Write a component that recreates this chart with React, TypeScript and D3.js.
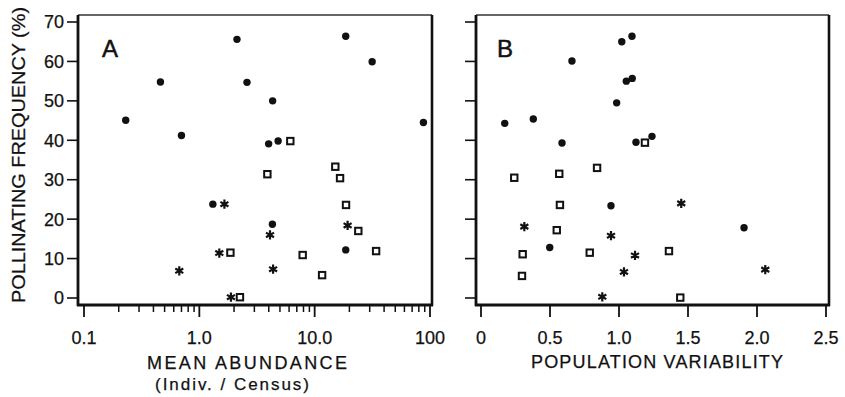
import * as d3 from 'd3';

type Pt = [number, number];

// Panel A: mean abundance (log) vs pollinating frequency
const circlesA: Pt[] = [
  [0.23, 45.1], [0.46, 54.8], [0.7, 41.2], [2.12, 65.6], [2.59, 54.7], [18.6, 66.4], [31.5, 59.9],
  [4.32, 50], [87.7, 44.5], [3.99, 39.1], [4.82, 39.8], [1.31, 23.8], [4.3, 18.7], [18.6, 12.2],
];
const squaresA: Pt[] = [
  [6.15, 39.8], [3.89, 31.4], [15.1, 33.3], [16.6, 30.4], [18.7, 23.6], [23.9, 17], [34.1, 11.9],
  [7.87, 10.9], [11.6, 5.8], [1.86, 11.5], [2.25, 0.2],
];
const starsA: Pt[] = [
  [1.65, 23.8], [1.49, 11.4], [0.67, 6.9], [1.88, 0.2], [4.1, 16], [4.36, 7.3], [19.3, 18.4],
];

// Panel B: population variability vs pollinating frequency
const circlesB: Pt[] = [
  [0.172, 44.3], [0.379, 45.4], [0.659, 60.1], [1.02, 65.0], [1.094, 66.4], [1.053, 55.0], [1.096, 55.7],
  [0.983, 49.5], [0.587, 39.3], [1.123, 39.5], [1.239, 41.0], [0.942, 23.4], [0.498, 12.8], [1.906, 17.8],
];
const squaresB: Pt[] = [
  [0.241, 30.5], [0.567, 31.5], [0.841, 33.0], [1.188, 39.4], [0.572, 23.6], [0.549, 17.2], [0.788, 11.5],
  [0.302, 11.1], [0.297, 5.6], [1.362, 11.9], [1.444, 0.1],
];
const starsB: Pt[] = [
  [0.314, 18.1], [0.942, 15.8], [1.116, 10.8], [1.036, 6.6], [0.879, 0.3], [1.451, 24.0], [2.06, 7.2],
];

const yTicks = [0, 10, 20, 30, 40, 50, 60, 70];
const xTicksA = [0.1, 1, 10, 100];
const xTickLabelsA = ['0.1', '1.0', '10.0', '100'];
const xTicksB = [0, 0.5, 1, 1.5, 2, 2.5];
const xTickLabelsB = ['0', '0.5', '1.0', '1.5', '2.0', '2.5'];

const FONT = '"Liberation Sans", Arial, sans-serif';
const textStyle = { fontFamily: FONT, fill: '#111', stroke: '#111', strokeWidth: 0.25 };

export default function App() {
  const top = 15;
  const bottom = 305;
  const y = d3.scaleLinear().domain([0, 70]).range([298, 22]);
  const xA = d3.scaleLog().domain([0.1, 100]).range([84, 430]);
  const xB = d3.scaleLinear().domain([0, 2.5]).range([481, 826]);
  const panelA = { left: 78, right: 432 };
  const panelB = { left: 476, right: 829 };

  const star = d3.symbol(d3.symbolAsterisk, 60)()!;

  const minorA: number[] = [];
  for (const dec of [0.1, 1, 10]) {
    for (let k = 2; k <= 9; k++) minorA.push(dec * k);
  }

  function marks(
    x: (v: number) => number,
    circles: Pt[],
    squares: Pt[],
    stars: Pt[],
    key: string
  ) {
    return (
      <g key={key}>
        {circles.map((d, i) => (
          <circle key={'c' + i} cx={x(d[0])} cy={y(d[1])} r={3.7} fill='#111' />
        ))}
        {squares.map((d, i) => (
          <rect
            key={'s' + i}
            x={x(d[0]) - 3.2}
            y={y(d[1]) - 3.2}
            width={6.4}
            height={6.4}
            fill='white'
            stroke='#111'
            strokeWidth={2}
          />
        ))}
        {stars.map((d, i) => (
          <path
            key={'a' + i}
            d={star}
            transform={`translate(${x(d[0])},${y(d[1])})`}
            fill='none'
            stroke='#111'
            strokeWidth={2.2}
          />
        ))}
      </g>
    );
  }

  function frame(p: { left: number; right: number }, showLabels: boolean) {
    return (
      <g>
        <line x1={p.left} x2={p.right} y1={top} y2={top} stroke='#333' strokeWidth={1.6} />
        <line x1={p.right} x2={p.right} y1={top} y2={bottom + 1} stroke='#111' strokeWidth={2.6} />
        <line x1={p.left} x2={p.left} y1={top} y2={bottom + 1} stroke='#111' strokeWidth={2.8} />
        <line x1={p.left - 1} x2={p.right + 1} y1={bottom} y2={bottom} stroke='#111' strokeWidth={2.8} />
        {yTicks.map((t) => (
          <g key={t}>
            <line x1={p.left - 11} x2={p.left} y1={y(t)} y2={y(t)} stroke='#111' strokeWidth={1.6} />
            {showLabels && (
              <text x={p.left - 14} y={y(t)} dy='0.36em' textAnchor='end' fontSize={18} style={textStyle}>
                {t}
              </text>
            )}
          </g>
        ))}
      </g>
    );
  }

  return (
    <svg width={845} height={397} style={{ position: 'absolute', left: 0, top: 0, background: 'white' }}>
      <rect width={845} height={397} fill='white' />
      {frame(panelA, true)}
      {frame(panelB, false)}

      {/* Panel A x axis (log) */}
      {xTicksA.map((t, i) => (
        <g key={'xa' + t}>
          <line x1={xA(t)} x2={xA(t)} y1={bottom} y2={bottom + 12} stroke='#111' strokeWidth={1.8} />
          <text x={xA(t)} y={344} textAnchor='middle' fontSize={18} style={textStyle}>
            {xTickLabelsA[i]}
          </text>
        </g>
      ))}
      {minorA.map((t) => (
        <line key={'ma' + t} x1={xA(t)} x2={xA(t)} y1={bottom} y2={bottom + 7} stroke='#111' strokeWidth={1.5} />
      ))}

      {/* Panel B x axis */}
      {xTicksB.map((t, i) => (
        <g key={'xb' + t}>
          <line x1={xB(t)} x2={xB(t)} y1={bottom} y2={bottom + 12} stroke='#111' strokeWidth={1.8} />
          <text x={xB(t)} y={344} textAnchor='middle' fontSize={18} style={textStyle}>
            {xTickLabelsB[i]}
          </text>
        </g>
      ))}

      {marks(xA, circlesA, squaresA, starsA, 'A')}
      {marks(xB, circlesB, squaresB, starsB, 'B')}

      <text x={102} y={57} fontSize={24} style={{ ...textStyle, strokeWidth: 0.5 }}>A</text>
      <text x={497} y={57} fontSize={24} style={{ ...textStyle, strokeWidth: 0.5 }}>B</text>

      <text
        transform='translate(25,155) rotate(-90)'
        textAnchor='middle'
        fontSize={19}
        style={textStyle}
        textLength={296}
        lengthAdjust='spacingAndGlyphs'
      >
        POLLINATING FREQUENCY (%)
      </text>
      <text x={247} y={369} textAnchor='middle' fontSize={18} style={textStyle} textLength={200} lengthAdjust='spacing'>
        MEAN ABUNDANCE
      </text>
      <text x={232} y={390} textAnchor='middle' fontSize={17} style={textStyle} textLength={154} lengthAdjust='spacing'>
        (Indiv. / Census)
      </text>
      <text x={657} y={368} textAnchor='middle' fontSize={18} style={textStyle} textLength={252} lengthAdjust='spacing'>
        POPULATION VARIABILITY
      </text>
    </svg>
  );
}
